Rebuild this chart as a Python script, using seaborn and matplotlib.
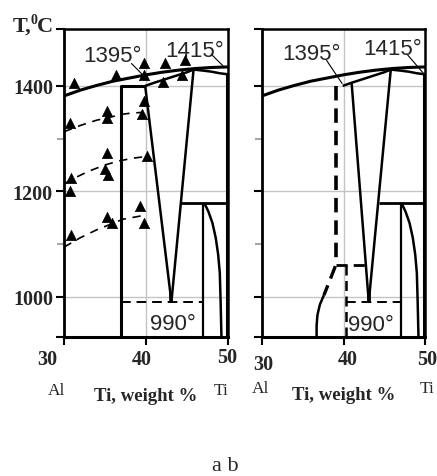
import matplotlib
matplotlib.use("Agg")
import matplotlib.pyplot as plt
import seaborn as sns

# ---------------- data (Ti weight %, temperature °C) ----------------
liq_x = [30, 32, 34, 36, 38, 40, 42, 44, 46, 48, 50]
liq_t = [1381, 1392, 1401, 1409, 1415, 1421, 1426, 1430, 1433, 1435, 1436]

sol_x = [39.9, 41, 42, 43, 44, 45, 45.8, 47, 48, 49, 50]
sol_t = [1400, 1406, 1411, 1416, 1421, 1426, 1431, 1429, 1427, 1424, 1422]

# V-shaped boundaries meeting at the 990° point
v_bottom_x = 43.1
v_bottom_t = 990
v_left_top_a = (39.9, 1400)   # panel a
v_left_top_b = (41.0, 1405)   # panel b
v_right_top = (45.8, 1431)

# horizontal line at ~1178 and vertical at 47 %
h1178_x = [44.3, 50]
h1178_t = [1178, 1178]
v47_x = [47.0, 47.0]
v47_t = [1178, 923.5]

# Ti-side curve
beta_x = [47.1, 47.6, 48.1, 48.5, 48.8, 49.0, 49.1, 49.2]
beta_t = [1178, 1162, 1140, 1112, 1080, 1045, 990, 923.5]

# panel a: phase boundary at 37 %
va_x = [37.0, 37.0, 39.9]
va_t = [923.5, 1400, 1400]
eut_a_x = [37.0, 47.0]
eut_t = [990, 990]

# panel a: isotherm dashed curves
iso1_x = [30, 32, 34, 36, 37, 38, 39.7]
iso1_t = [1313, 1325, 1335, 1342, 1346, 1348, 1350]
iso2_x = [30, 31, 33, 35, 36.8, 38.5, 40]
iso2_t = [1214, 1223, 1238, 1250, 1258, 1263, 1266]
iso3_x = [30, 32, 34, 35.6, 37.2, 40]
iso3_t = [1094, 1112, 1127, 1137, 1147, 1155]

# panel a: experimental points (triangles)
tri_x = [31.2, 36.4, 39.8, 39.7, 42.3, 44.8, 42.1, 44.4,
         30.7, 35.2, 35.2, 39.7, 39.5,
         30.9, 30.7, 35.2, 35.0, 35.4, 40.1,
         30.9, 35.2, 35.8, 39.3, 39.7]
tri_t = [1405, 1420, 1444, 1420, 1444, 1449, 1407, 1421,
         1330, 1353, 1340, 1371, 1347,
         1226, 1201, 1273, 1242, 1230, 1267,
         1117, 1152, 1140, 1172, 1140]

# panel b: dashed boundaries
vb_dash_x = [39.1, 39.1]
vb_dash_t = [1400, 1061]
hb_x = [39.1, 42.7]
hb_t = [1061, 1061]
vb2_x = [40.3, 40.3]
vb2_t = [1061, 923.5]
cb_dash_x = [39.0, 38.3, 37.6]
cb_dash_t = [1058, 1030, 1003]
cb_x = [37.6, 37.1, 36.8, 36.7, 36.7]
cb_t = [1003, 985, 965, 945, 923.5]
eut_b_x = [40.3, 47.0]

labels_top = ["1395°", "1415°"]
label_eut = "990°"
xticks = [30, 40, 50]
yticks = [1000, 1200, 1400]

# ---------------- style ----------------
sns.set_style("white")
plt.rcParams["font.family"] = ["Liberation Serif", "DejaVu Serif"]

fig = plt.figure(figsize=(4.37, 4.77), dpi=100)
axA = fig.add_axes([64 / 437, 1 - 338 / 477, 164 / 437, 308 / 477])
axB = fig.add_axes([262 / 437, 1 - 338 / 477, 163 / 437, 308 / 477])

XLIM = (30, 50)
YLIM = (923.5, 1508)


def line(ax, xs, ts, lw, dashes=None):
    sns.lineplot(x=xs, y=ts, sort=False, estimator=None, color="black",
                 linewidth=lw, ax=ax, legend=False)
    ln = ax.lines[-1]
    ln.set_solid_capstyle("butt")
    if dashes:
        ln.set_dashes(dashes)
    return ln


def common(ax, ttop, t990):
    ax.set_xlim(*XLIM)
    ax.set_ylim(*YLIM)
    for g in yticks:
        ax.axhline(g, color="#c4c4c4", lw=1.0, zorder=0)
    ax.axvline(40, color="#c4c4c4", lw=1.0, zorder=0)

    line(ax, liq_x, liq_t, 2.2)
    line(ax, sol_x, sol_t, 1.8)
    line(ax, [v_bottom_x, v_right_top[0]], [v_bottom_t, v_right_top[1]], 1.8)
    line(ax, [v_bottom_x, v_bottom_x], [v_bottom_t - 2, v_bottom_t + 18], 2.6)
    line(ax, h1178_x, h1178_t, 2.0)
    line(ax, v47_x, v47_t, 1.6)
    line(ax, beta_x, beta_t, 1.8)
    line(ax, [49.85, 49.85], [1422, 923.5], 2.2)

    (x1, t1, l1a, l1b), (x2, t2, l2a, l2b) = ttop
    ax.text(x1, t1, labels_top[0], family="Liberation Sans", fontsize=16,
            ha="left", va="baseline")
    ax.text(x2, t2, labels_top[1], family="Liberation Sans", fontsize=16,
            ha="left", va="baseline")
    line(ax, [l1a[0], l1b[0]], [l1a[1], l1b[1]], 0.8)
    line(ax, [l2a[0], l2b[0]], [l2a[1], l2b[1]], 0.8)
    ax.text(t990[0], t990[1], label_eut, family="Liberation Sans", fontsize=16,
            ha="left", va="baseline")

    ax.set_yticks([YLIM[0]] + yticks + [YLIM[1]])
    ax.set_yticks([1100, 1300], minor=True)
    ax.set_xticks(xticks)
    ax.set_xticklabels([""] * 3)
    ax.tick_params(axis="both", which="major", direction="out", length=6,
                   width=1.5, color="black", pad=2, left=True, bottom=True)
    ax.tick_params(axis="y", which="minor", direction="out", length=5,
                   width=1.5, color="#a8a8a8", left=True)
    for side, lw in (("left", 2.0), ("bottom", 2.2), ("top", 1.8), ("right", 1.8)):
        ax.spines[side].set_visible(True)
        ax.spines[side].set_color("black")
        ax.spines[side].set_linewidth(lw)
    ax.set_xlabel("")
    ax.set_ylabel("")


# ---------------- panel a ----------------
common(axA,
       ((32.3, 1447, (38.2, 1443), (39.6, 1421)),
        (42.3, 1457, (47.9, 1461), (49.4, 1438))),
       (40.5, 939))
axA.set_yticklabels(["", "1000", "1200", "1400", ""], fontweight="bold",
                    fontsize=14.5)
line(axA, [v_left_top_a[0], v_bottom_x], [v_left_top_a[1], v_bottom_t], 1.8)
line(axA, va_x, va_t, 2.2)
line(axA, eut_a_x, eut_t, 1.4, dashes=(5, 3))
for xs, ts in ((iso1_x, iso1_t), (iso2_x, iso2_t), (iso3_x, iso3_t)):
    line(axA, xs, ts, 1.2, dashes=(5, 4))
sns.scatterplot(x=tri_x, y=tri_t, marker="^", s=55, color="black",
                edgecolor="black", linewidth=0.5, ax=axA, zorder=5,
                legend=False)

# ---------------- panel b ----------------
common(axB,
       ((32.45, 1451, (37.9, 1449), (39.85, 1404)),
        (42.4, 1461, (47.75, 1461), (49.8, 1424))),
       (40.55, 937))
axB.set_yticklabels([""] * 5)
line(axB, [v_left_top_b[0], v_bottom_x], [v_left_top_b[1], v_bottom_t], 1.8)
line(axB, vb_dash_x, vb_dash_t, 2.6, dashes=(4, 2.2))
line(axB, hb_x, hb_t, 2.0, dashes=(4, 2.2))
line(axB, vb2_x, vb2_t, 1.8, dashes=(4, 2.2))
line(axB, cb_dash_x, cb_dash_t, 2.4, dashes=(4, 2.2))
line(axB, cb_x, cb_t, 1.8)
line(axB, eut_b_x, eut_t, 1.4, dashes=(5, 3))

# ---------------- tick labels and texts ----------------
tick_pos_a = [(27.93, -0.088), (39.5, -0.088), (49.9, -0.082)]
tick_pos_b = [(30.1, -0.104), (40.5, -0.088), (50.3, -0.088)]
for ax, poss in ((axA, tick_pos_a), (axB, tick_pos_b)):
    for (xp, yp), v in zip(poss, xticks):
        ax.text(xp, yp, str(v), transform=ax.get_xaxis_transform(),
                ha="center", va="baseline", fontsize=14.5, fontweight="bold",
                clip_on=False)

# "T,⁰C" axis title
fig.text(13 / 437, 1 - 32 / 477, "T,", fontsize=16, fontweight="bold",
         ha="left", va="baseline")
fig.text(31 / 437, 1 - 24 / 477, "0", fontsize=10, fontweight="bold",
         ha="left", va="baseline")
fig.text(37 / 437, 1 - 32 / 477, "C", fontsize=16, fontweight="bold",
         ha="left", va="baseline")

for cx, by in ((56.5, 395), (261, 393)):
    fig.text(cx / 437, 1 - by / 477, "Al", fontsize=12.5, ha="center",
             va="baseline")
for cx, by in ((221.5, 395), (427, 393)):
    fig.text(cx / 437, 1 - by / 477, "Ti", fontsize=12.5, ha="center",
             va="baseline")
for cx, by in ((146, 401), (343.5, 400)):
    fig.text(cx / 437, 1 - by / 477, "Ti, weight %", fontsize=13.5,
             fontweight="bold", ha="center", va="baseline")

fig.text(225 / 437, 1 - 471 / 477, "a b", fontsize=16, ha="center",
         va="baseline")

fig.savefig("out.png", dpi=100)
